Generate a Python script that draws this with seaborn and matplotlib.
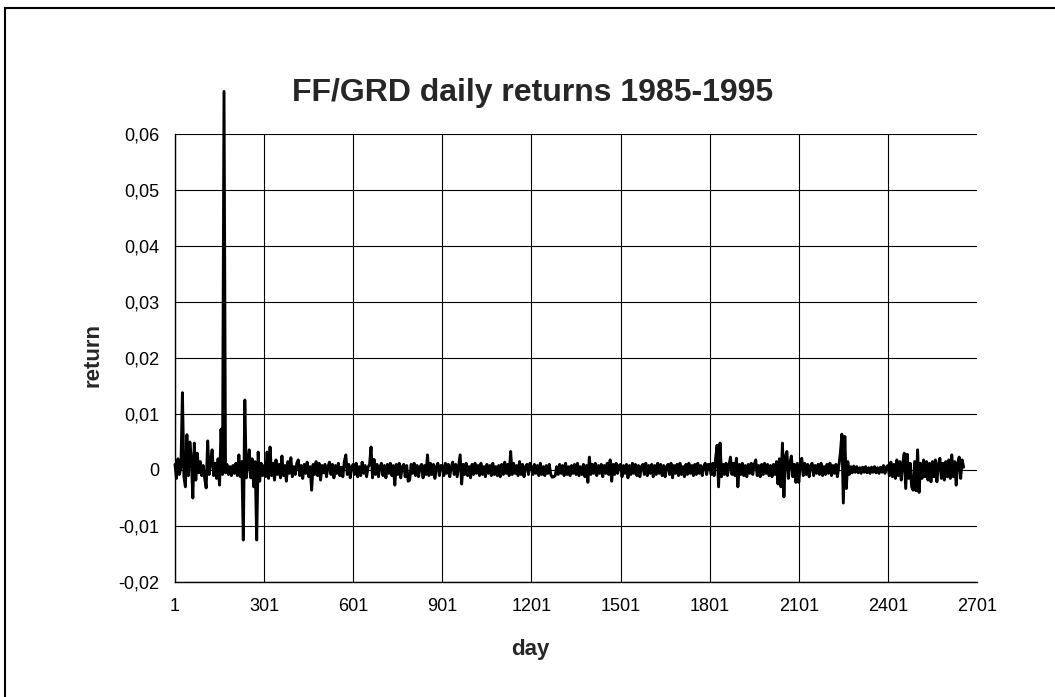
import numpy as np
import pandas as pd
import matplotlib
matplotlib.use("Agg")
import matplotlib.pyplot as plt
import seaborn as sns
from matplotlib.patches import Rectangle

# daily FF/GRD returns, every 5th day, in units of 1e-4
ret_1_300 = [10, -15, 20, -8, 5, 138, -12, -30, 63, -10,
             50, 20, -50, 48, -18, 30, -5, 15, -10, 8,
             -15, -32, 52, -8, 15, 36, -10, 12, -15, 20,
             -27, 73, -8, 676, -5, 10, -8, 6, -10, 8,
             -6, 12, -10, 27, -12, 15, -125, 125, -14, 10,
             36, -14, 20, -30, 15, -125, 32, -20, 12, -10]
ret_301_600 = [8, -12, 32, -15, 41, -10, 12, -18, 18, -8,
               10, -14, 25, -10, 8, -20, 15, -6, 22, -12,
               6, -8, 12, 18, -10, 8, -15, 10, -6, 14,
               -12, 6, -36, 10, -8, 15, -10, 12, -18, 8,
               -5, 10, -12, 6, 14, -8, 10, -14, 8, -6,
               12, -10, 5, -12, 15, 27, -8, 10, -14, 6]
ret_601_900 = [10, -8, 12, -12, 6, -10, 14, -6, 8, -12,
               5, 10, 41, -14, 19, -8, 10, -12, 6, 12,
               -10, 8, -14, 10, -6, 12, -10, 8, -27, 10,
               -8, 12, -14, 6, 10, -12, 8, -20, -18, 10,
               -6, 12, -10, 8, -12, 6, 10, -14, 8, -8,
               27, -10, 12, -8, 10, -15, 6, 12, -10, 8]
ret_901_1200 = [8, -10, 12, -6, 10, -12, 6, 14, -8, 10,
                -12, 8, 27, -25, 10, -8, 12, -10, 6, -14,
                10, -8, 12, -6, 8, -10, 12, -8, 6, -12,
                10, -6, 8, -10, 12, -8, 6, -10, 8, -12,
                10, -8, 14, -6, 10, -10, 33, -8, 12, -6,
                8, -10, 15, -8, 10, -12, 6, 10, -8, 12]
ret_1201_1500 = [6, -8, 10, -6, 8, -10, 12, -8, 6, -10,
                 8, -6, 10, -8, -13, -12, -10, 6, -8, 10,
                 -6, 8, -10, 12, -8, 6, -10, 8, -6, 10,
                 -8, 12, -10, 6, -8, 10, -12, 8, -22, 23,
                 -8, 10, -6, 12, -10, 8, -6, 10, -12, 8,
                 -6, 12, -8, 18, -20, 10, -8, 12, -6, 8]
ret_1501_1800 = [10, -12, 8, -6, 10, -14, 8, -8, 12, -6,
                 10, -10, 8, -12, 6, 10, -8, 12, -10, 8,
                 -6, 10, -12, 8, -8, 12, -6, 10, -10, 8,
                 -12, 6, 10, -8, 12, -14, 8, -6, 10, -10,
                 12, -8, 6, -12, 10, -8, 12, -6, 8, -10,
                 10, -8, 12, -6, 8, -10, 6, 12, -8, 10]
ret_1801_2100 = [10, -8, 12, -10, 20, 44, -30, 48, -12, 10,
                 -8, 12, -10, 8, 23, -8, 12, -10, 21, -30,
                 10, -8, 12, -10, 8, -12, 10, -6, 12, -8,
                 10, 18, -10, 8, -12, 10, -8, 12, -6, 10,
                 -10, 8, -12, 10, -8, 15, -25, 20, -30, 48,
                 -48, 25, 33, -15, 12, 25, -12, 10, -22, 12]
ret_2101_2400 = [-22, 10, 21, -10, 12, -8, 10, -12, 8, 12,
                 -10, 8, -6, 10, -8, 12, -10, 6, -8, 10,
                 -6, 12, -10, 8, -6, 10, -12, 8, 30, 64,
                 -59, 60, -33, 15, -8, 6, -5, 7, -4, 6,
                 -5, 4, -6, 5, -4, 6, -5, 4, -6, 5,
                 -4, 6, -5, 4, -6, 5, -4, 8, -6, 5]
ret_2401_2656 = [8, -10, 14, -12, 10, -15, 18, -10, 15, -18,
                 12, 30, -33, 28, -15, 12, -30, -36, 15, -37,
                 36, -40, 12, -15, 18, -12, 15, -18, 12, -21,
                 15, -12, 18, -21, 10, 21, -15, 12, -18, 15,
                 -12, 18, -15, 27, -12, 15, -27, 12, 23, -15,
                 18, 5]

x_ticks = [1, 301, 601, 901, 1201, 1501, 1801, 2101, 2401, 2701]
y_ticks = [-0.02, -0.01, 0, 0.01, 0.02, 0.03, 0.04, 0.05, 0.06]
y_tick_labels = ['-0,02', '-0,01', '0', '0,01', '0,02', '0,03', '0,04', '0,05', '0,06']

blocks = [ret_1_300, ret_301_600, ret_601_900, ret_901_1200, ret_1201_1500,
          ret_1501_1800, ret_1801_2100, ret_2101_2400, ret_2401_2656]
ret = np.concatenate(blocks) * 1e-4
df = pd.DataFrame({'day': 1 + 5 * np.arange(len(ret)), 'return': ret})

sns.set_style('white')
plt.rcParams['font.family'] = ['Liberation Sans', 'DejaVu Sans']

fig = plt.figure(figsize=(10.55, 6.97), dpi=100)
ax = fig.add_axes([175 / 1055, 1 - 582 / 697, 802 / 1055, 448 / 697])

sns.lineplot(data=df, x='day', y='return', color='black', linewidth=2.1, ax=ax)
ax.lines[0].set_clip_on(False)

ax.set_xlim(1, 2701)
ax.set_ylim(-0.02, 0.06)
ax.set_xticks(x_ticks)
ax.set_xticklabels([str(t) for t in x_ticks])
ax.set_yticks(y_ticks)
ax.set_yticklabels(y_tick_labels)
ax.tick_params(axis='both', direction='inout', length=7, width=1, color='black',
               labelsize=13, labelcolor='black', pad=8)

ax.grid(True, color='black', linewidth=0.8)
ax.xaxis.get_gridlines()[-1].set_visible(False)
for side in ['top', 'right']:
    ax.spines[side].set_visible(False)
for side in ['left', 'bottom']:
    ax.spines[side].set_color('black')
    ax.spines[side].set_linewidth(1)

ax.set_xlabel('')
ax.set_ylabel('')
fig.text(530 / 1055, 1 - 650 / 697, 'day', ha='center', va='center',
         fontsize=16, fontweight='bold')
fig.text(93 / 1055, 1 - 355 / 697, 'return', ha='center', va='center',
         rotation=90, fontsize=16, fontweight='bold')
fig.text(533 / 1055, 1 - 93 / 697, 'FF/GRD daily returns 1985-1995',
         ha='center', va='center', fontsize=23, fontweight='bold')

# chart area border
fig.patches.append(Rectangle((5 / 1055, -0.05), 1.2, 1 - 8 / 697 + 0.05,
                             transform=fig.transFigure, fill=False,
                             edgecolor='black', linewidth=1.5))

fig.savefig('out.png', dpi=100)
plt.close(fig)
